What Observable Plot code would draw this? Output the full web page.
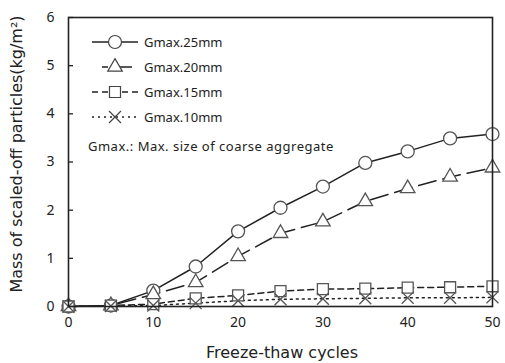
<!DOCTYPE html>
<html>
<head>
<meta charset="utf-8">
<script src="https://cdn.jsdelivr.net/npm/d3@7"></script>
<script src="https://cdn.jsdelivr.net/npm/@observablehq/plot@0.6"></script>
<style>
  html, body { margin: 0; padding: 0; background: #fff; }
  svg { font-family: "Noto Sans", sans-serif; }
</style>
</head>
<body>
<div id="chart"></div>
<script>
const cycles = [0, 5, 10, 15, 20, 25, 30, 35, 40, 45, 50];
const g25 = [0, 0.02, 0.33, 0.83, 1.56, 2.05, 2.49, 2.98, 3.22, 3.49, 3.58];
const g20 = [0, 0.02, 0.25, 0.50, 1.04, 1.52, 1.76, 2.18, 2.45, 2.69, 2.88];
const g15 = [0, 0.02, 0.05, 0.17, 0.23, 0.32, 0.36, 0.37, 0.39, 0.40, 0.42];
const g10 = [0, 0.01, 0.02, 0.07, 0.12, 0.15, 0.16, 0.17, 0.18, 0.18, 0.19];
const seriesNames = ["Gmax.25mm", "Gmax.20mm", "Gmax.15mm", "Gmax.10mm"];
const xTicks = [0, 10, 20, 30, 40, 50];
const yTicks = [0, 1, 2, 3, 4, 5, 6];
const note = "Gmax.: Max. size of coarse aggregate";
const xTitle = "Freeze-thaw cycles";
const yTitle = "Mass of scaled-off particles(kg/m²)";

const styles = [
  {symbol: "circle", dash: null, r: 6.5},
  {symbol: "triangle", dash: "18,7", r: 5.4},
  {symbol: "square", dash: "6,4", r: 6.2},
  {symbol: "times", dash: "2,4", r: 5.5}
];
const allSeries = [g25, g20, g15, g10];
const data = allSeries.map((vals, i) => cycles.map((c, j) => ({x: c, y: vals[j], s: seriesNames[i]})));

const marks = [];
data.forEach((d, i) => {
  marks.push(Plot.line(d, {x: "x", y: "y", stroke: "#222", strokeWidth: 1.5, strokeDasharray: styles[i].dash}));
});
data.forEach((d, i) => {
  marks.push(Plot.dot(d, {x: "x", y: "y", symbol: () => styles[i].symbol, r: styles[i].r, stroke: "#555", strokeWidth: 1.3, fill: styles[i].symbol === "times" ? "none" : "white"}));
});

const chart = Plot.plot({
  width: 505,
  height: 363,
  marginLeft: 68,
  marginRight: 13,
  marginTop: 17,
  marginBottom: 57,
  style: {fontSize: "14px", fontFamily: "'Noto Sans', sans-serif", color: "#222", background: "white"},
  x: {domain: [0, 50]},
  y: {domain: [0, 6]},
  symbol: {type: "identity"},
  marks: [
    ...marks,
    Plot.tickY(yTicks, {y: d => d, stroke: "#222", strokeWidth: 1.3, insetRight: 419}),
    Plot.frame({stroke: "#222", strokeWidth: 1.6}),
    Plot.axisX({ticks: xTicks, tickSize: 0, tickPadding: 11, fontSize: 14, label: null}),
    Plot.axisY({ticks: yTicks, tickFormat: "d", tickSize: 0, tickPadding: 14, fontSize: 14, label: null})
  ]
});
document.getElementById("chart").appendChild(chart);

const svg = d3.select(chart);
// Axis titles
svg.append("text").attr("x", 282).attr("y", 352).attr("dy", "0.35em")
  .attr("text-anchor", "middle").attr("font-family", "DejaVu Sans, sans-serif").attr("font-size", 16)
  .attr("fill", "#222").text(xTitle);
svg.append("text").attr("transform", "translate(16,154) rotate(-90)").attr("dy", "0.35em")
  .attr("text-anchor", "middle").attr("font-family", "DejaVu Sans, sans-serif").attr("font-size", 16)
  .attr("fill", "#222").text(yTitle);

// Legend inside plot area
const leg = svg.append("g").attr("font-size", 13).attr("fill", "#222").attr("text-anchor", "start");
const rowsY = [42, 67, 92, 117];
const lineSpans = [[92, 138], [102, 138], [92, 140], [92, 140]];
const symbolGen = [d3.symbolCircle, d3.symbolTriangle, d3.symbolSquare, d3.symbolTimes];
rowsY.forEach((yy, i) => {
  leg.append("line").attr("x1", lineSpans[i][0]).attr("x2", lineSpans[i][1]).attr("y1", yy).attr("y2", yy)
    .attr("stroke", "#222").attr("stroke-width", 1.3).attr("stroke-dasharray", i === 1 ? "6,6,18" : styles[i].dash);
  const r = styles[i].r;
  leg.append("path").attr("transform", `translate(115,${yy})`)
    .attr("d", d3.symbol(symbolGen[i], Math.PI * r * r)())
    .attr("fill", i === 3 ? "none" : "white").attr("stroke", "#444").attr("stroke-width", 1.2);
  leg.append("text").attr("x", 144).attr("y", yy).attr("dy", "0.35em").text(seriesNames[i]);
});
leg.append("text").attr("x", 88).attr("y", 146).attr("dy", "0.35em").attr("letter-spacing", 0.5).text(note);
</script>
</body>
</html>
